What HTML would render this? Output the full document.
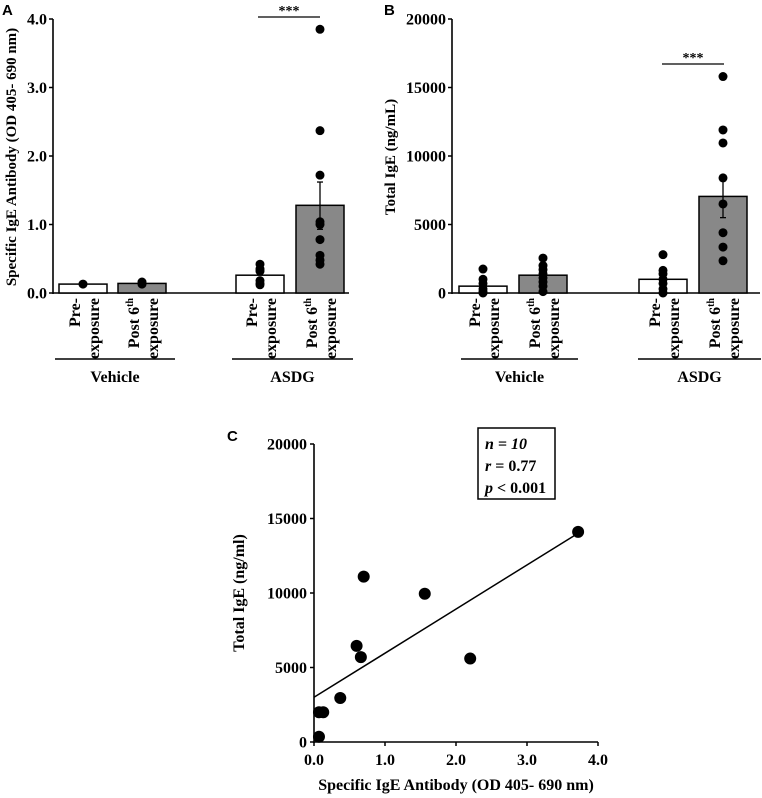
<!DOCTYPE html>
<html><head><meta charset="utf-8"><style>
html,body{margin:0;padding:0;background:#fff;}
svg{display:block;font-family:"Liberation Serif",serif;font-weight:bold;}
</style></head><body>
<svg id="fig" width="762" height="798" xmlns="http://www.w3.org/2000/svg"></svg>
<script>
// Panel A data
const aBars = [0.13, 0.14, 0.26, 1.28];
const aErrHi = [null, null, null, 1.62];
const aErrLo = [null, null, null, 0.93];
const aDots = [[0.13],[0.13,0.16],[0.42,0.35,0.32,0.18,0.14,0.12],[3.85,2.37,1.72,1.04,1.0,0.78,0.55,0.48,0.42]];
const aTicks = ["0.0","1.0","2.0","3.0","4.0"];
const aTickVals = [0,1,2,3,4];
// Panel B data
const bBars = [500, 1300, 1000, 7050];
const bErrHi = [null, null, null, 8400];
const bErrLo = [null, null, null, 5500];
const bDots = [[1750,1000,700,300,100,0],[2550,2000,1700,1400,1100,800,500,100],[2800,1650,1400,1000,700,300,0],[15800,11900,10950,8400,6500,4400,3350,2350]];
const bTicks = ["0","5000","10000","15000","20000"];
const bTickVals = [0,5000,10000,15000,20000];
// Panel C data
const cX = [0.07,0.13,0.07,0.37,0.6,0.66,0.7,1.56,2.2,3.72];
const cY = [2000,2000,350,2950,6450,5700,11100,9950,5600,14100];
const cFit = [3000, 2960]; // intercept, slope
const cXTicks = ["0.0","1.0","2.0","3.0","4.0"];
const cXTickVals = [0,1,2,3,4];
const cYTicks = ["0","5000","10000","15000","20000"];
const cYTickVals = [0,5000,10000,15000,20000];
const barFills = ["#fff","#888","#fff","#888"];

const svg = document.getElementById('fig');
const NS = "http://www.w3.org/2000/svg";
function mk(tag, attrs, text){
  const e = document.createElementNS(NS, tag);
  for (const k in attrs) e.setAttribute(k, attrs[k]);
  if (text !== undefined) e.textContent = text;
  svg.appendChild(e);
  return e;
}
function txt(x,y,s,size,anchor,name,extra){
  const e = mk('text', Object.assign({x:x,y:y,'font-size':size,'text-anchor':anchor||'middle'}, extra||{}), s);
  
  
  return e;
}
function line(x1,y1,x2,y2,w,name){
  const e = mk('line',{x1:x1,y1:y1,x2:x2,y2:y2,stroke:'#000','stroke-width':w||1.5});
  
  
  return e;
}

function barPanel(p){
  const ys = v => p.y0 - (v / p.max) * (p.y0 - p.y1);
  line(p.ax, p.y1, p.ax, p.y0+1, 1.6, p.id+'-y-axis');
  line(p.ax, p.y0, p.axEnd, p.y0, 1.6, p.id+'-x-axis');
  p.tickVals.forEach((v,i)=>{
    line(p.ax-4, ys(v), p.ax, ys(v), 1.5, p.id+'-y-tick');
    txt(p.ax-6, ys(v)+5.5, p.ticks[i], 16, 'end', p.id+'-y-tick-label');
  });
  p.bars.forEach((v,i)=>{
    const x = p.barX[i];
    const r = mk('rect',{x:x,y:ys(v),width:p.bw,height:p.y0-ys(v),fill:barFills[i],stroke:'#000','stroke-width':1.5});
    
    
    const cx = x + p.bw/2;
    if (p.errHi[i] !== null){
      line(cx, ys(p.errHi[i]), cx, ys(p.errLo[i]), 1.3, p.id+'-error-bar');
      line(cx-3, ys(p.errHi[i]), cx+3, ys(p.errHi[i]), 1.3, p.id+'-error-cap');
      line(cx-3, ys(p.errLo[i]), cx+3, ys(p.errLo[i]), 1.3, p.id+'-error-cap');
    }
    p.dots[i].forEach(d=>{
      const c = mk('circle',{cx:cx, cy:ys(d), r:4.5, fill:'#000'});
      
      
    });
    const l1 = p.labels[i%2][0], l2 = p.labels[i%2][1];
    const sup = (i%2===1);
    const t1 = txt(0,0,'',16,'end',p.id+'-category-label',{transform:`translate(${cx-3},298) rotate(-90)`});
    if (sup){ t1.textContent='Post 6'; const ts=document.createElementNS(NS,'tspan'); ts.setAttribute('font-size','10'); ts.setAttribute('dy','-6'); ts.textContent='th'; t1.appendChild(ts);}
    else t1.textContent=l1;
    txt(0,0,l2,16,'end',p.id+'-category-label',{transform:`translate(${cx+16},298) rotate(-90)`});
  });
  p.groups.forEach(g=>{
    line(g.x1, 359, g.x2, 359, 1.5, p.id+'-group-line');
    txt((g.x1+g.x2)/2, 382, g.name, 16, 'middle', p.id+'-group-label');
  });
  line(p.sig[0], p.sig[2], p.sig[1], p.sig[2], 1.3, p.id+'-significance-line');
  txt((p.sig[0]+p.sig[1])/2, p.sig[2]-2, '***', 14, 'middle', p.id+'-significance-stars');
  txt(0,0,p.ytitle,15,'middle',p.id+'-y-axis-title',{transform:`translate(${p.ytx},${p.yty}) rotate(-90)`});
  txt(p.lx, 15, p.id.toUpperCase().slice(-1), 15, 'start', p.id+'-panel-label', {'font-family':'Liberation Sans, sans-serif'});
}
const labels = [["Pre-","exposure"],["Post 6th","exposure"]];
barPanel({id:'panel-a', ax:53, axEnd:349, y0:293, y1:19, max:4, ticks:aTicks, tickVals:aTickVals,
  bars:aBars, errHi:aErrHi, errLo:aErrLo, dots:aDots, barX:[59,118,236,296], bw:48, labels:labels,
  groups:[{x1:55,x2:175,name:'Vehicle'},{x1:232,x2:353,name:'ASDG'}], sig:[258,320,17],
  ytitle:'Specific IgE Antibody (OD 405- 690 nm)', ytx:16, yty:157, lx:2});
barPanel({id:'panel-b', ax:452, axEnd:760, y0:293, y1:19, max:20000, ticks:bTicks, tickVals:bTickVals,
  bars:bBars, errHi:bErrHi, errLo:bErrLo, dots:bDots, barX:[459,519,639,699], bw:48, labels:labels,
  groups:[{x1:461,x2:578,name:'Vehicle'},{x1:638,x2:761,name:'ASDG'}], sig:[662,724,64],
  ytitle:'Total IgE (ng/mL)', ytx:395, yty:157, lx:384});

// Panel C
(function(){
  const x0=314, x1=598, y0=742, y1=444;
  const xs = v => x0 + v/4*(x1-x0);
  const ys = v => y0 - v/20000*(y0-y1);
  line(x0, y1, x0, y0+1, 1.6, 'panel-c-y-axis');
  line(x0, y0, x1, y0, 1.6, 'panel-c-x-axis');
  cYTickVals.forEach((v,i)=>{
    line(x0-4, ys(v), x0, ys(v), 1.5, 'panel-c-y-tick');
    txt(x0-7, ys(v)+5.5, cYTicks[i], 16, 'end', 'panel-c-y-tick-label');
  });
  cXTickVals.forEach((v,i)=>{
    line(xs(v), y0, xs(v), y0+4, 1.5, 'panel-c-x-tick');
    txt(xs(v), y0+23, cXTicks[i], 16, 'middle', 'panel-c-x-tick-label');
  });
  const fx0 = 0, fx1 = cX.reduce((a,b)=>Math.max(a,b));
  line(xs(fx0), ys(cFit[0]+cFit[1]*fx0), xs(fx1), ys(cFit[0]+cFit[1]*fx1), 1.5, 'panel-c-regression-line');
  cX.forEach((v,i)=>{
    const c = mk('circle',{cx:xs(v), cy:ys(cY[i]), r:6, fill:'#000'});
    
    
  });
  const box = mk('rect',{x:478,y:428,width:77,height:71,fill:'#fff',stroke:'#000','stroke-width':1.5});
  
  
  const t1 = txt(485,449,'',16,'start','stats-n'); t1.innerHTML='<tspan font-style="italic">n = 10</tspan>';
  const t2 = txt(485,471,'',16,'start','stats-r'); t2.innerHTML='<tspan font-style="italic">r</tspan> = 0.77';
  const t3 = txt(485,493,'',16,'start','stats-p'); t3.innerHTML='<tspan font-style="italic">p</tspan> &lt; 0.001';
  txt(456, 790, 'Specific IgE Antibody (OD 405- 690 nm)', 16, 'middle', 'panel-c-x-axis-title');
  txt(0,0,'Total IgE (ng/ml)',16,'middle','panel-c-y-axis-title',{transform:'translate(244,593) rotate(-90)'});
  txt(227, 441, 'C', 15, 'start', 'panel-c-panel-label', {'font-family':'Liberation Sans, sans-serif'});
})();
</script>
</body></html>
